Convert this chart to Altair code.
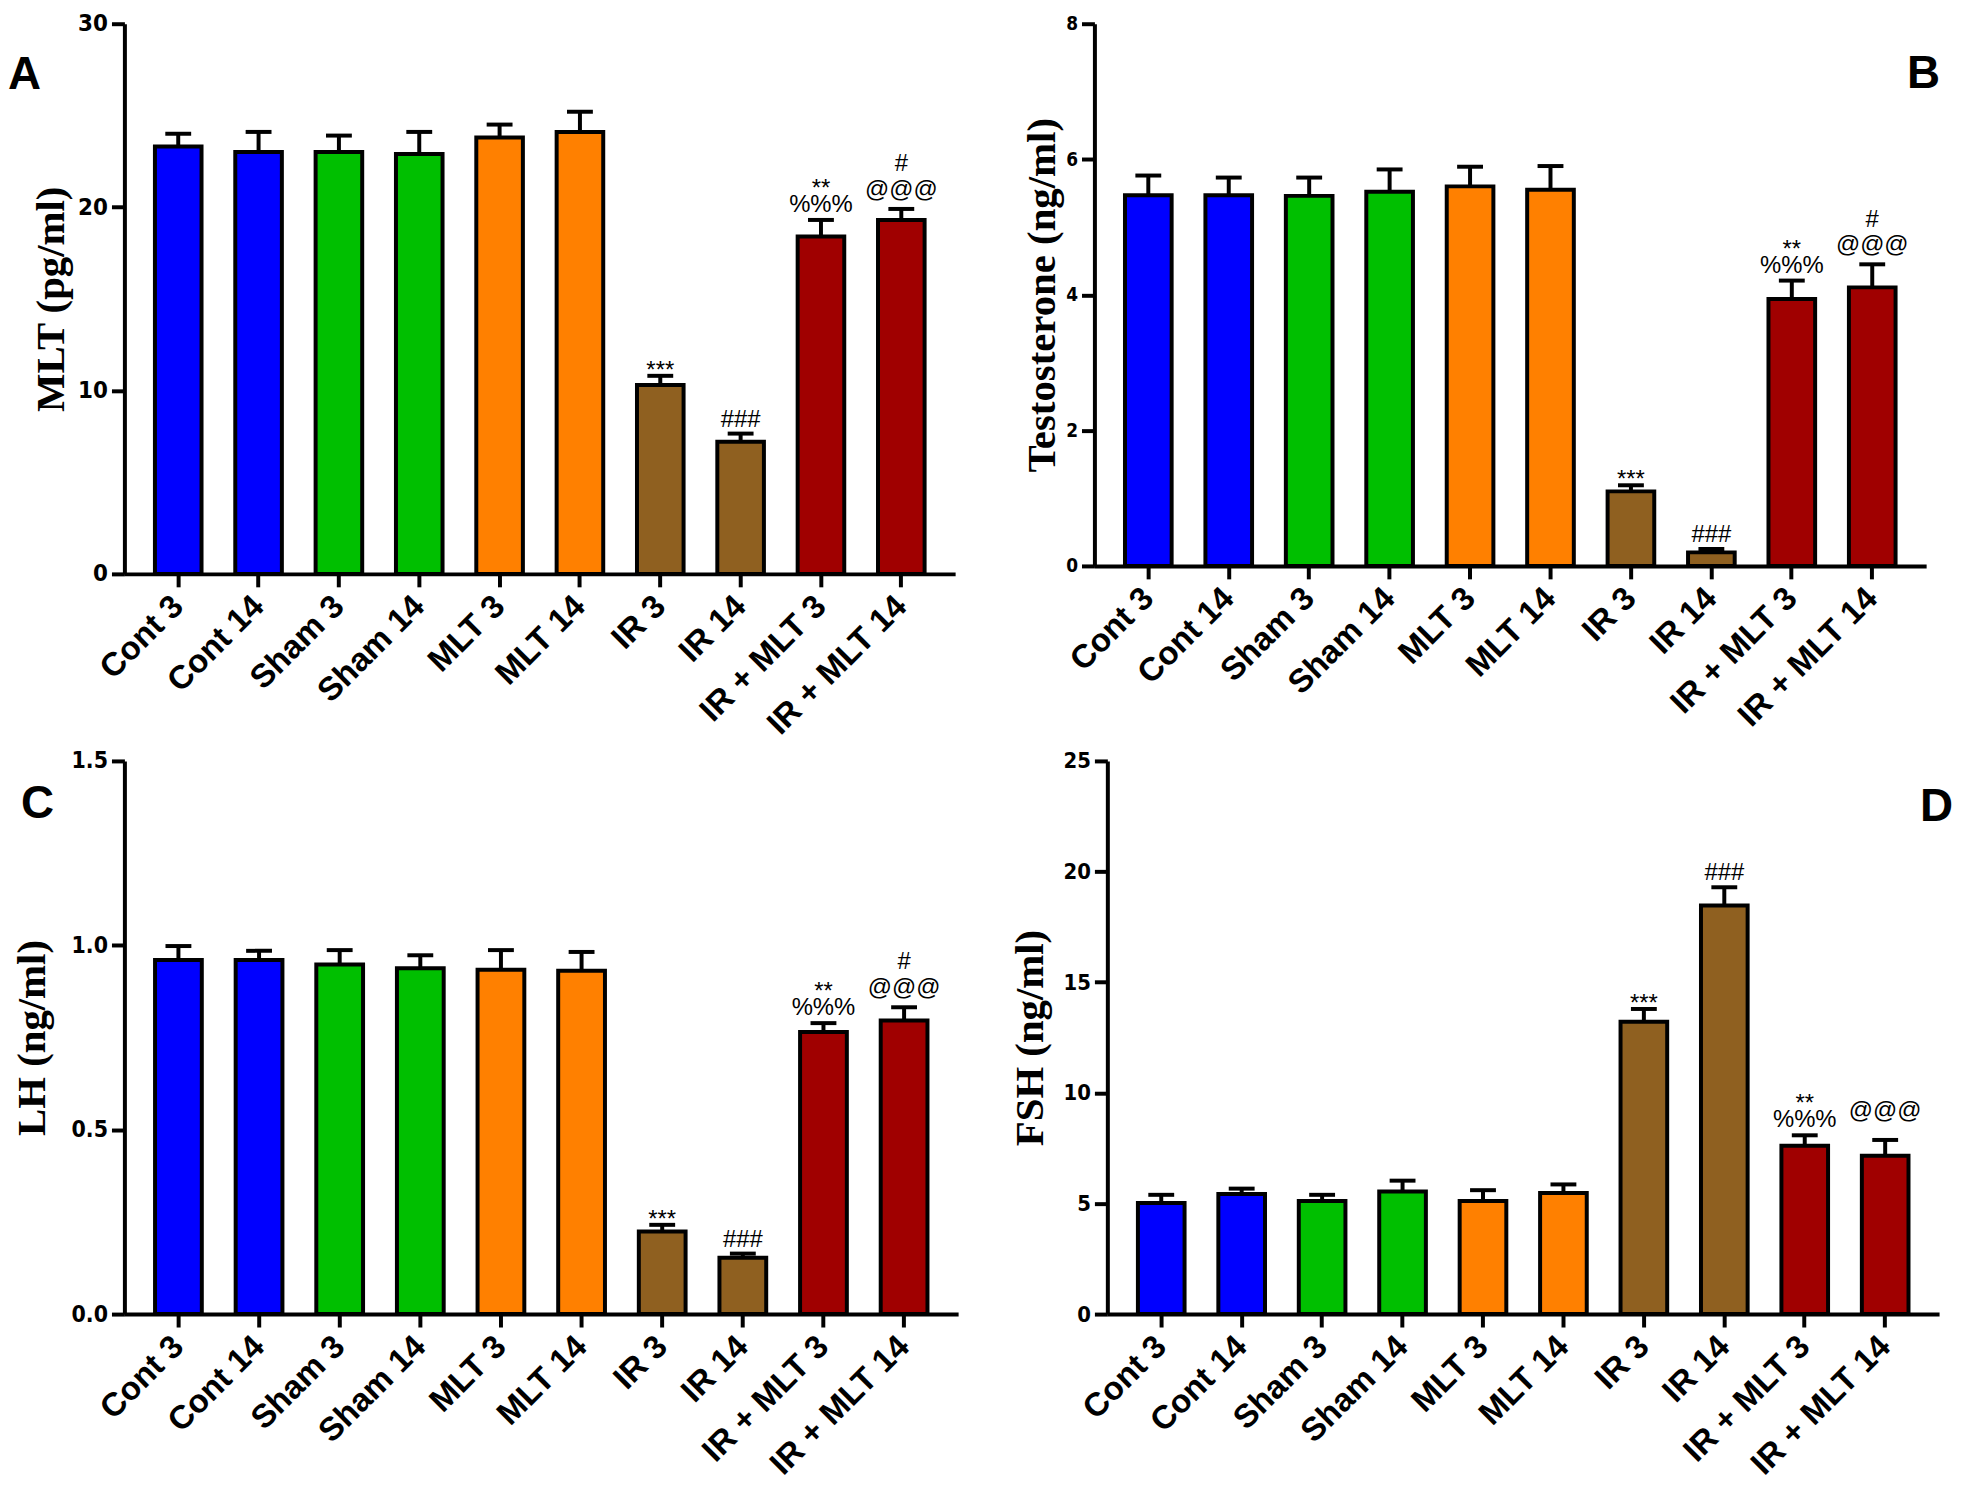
import altair as alt
import pandas as pd

categories = ["Cont 3", "Cont 14", "Sham 3", "Sham 14", "MLT 3", "MLT 14",
              "IR 3", "IR 14", "IR + MLT 3", "IR + MLT 14"]
groups = ["Cont", "Cont", "Sham", "Sham", "MLT", "MLT", "IR", "IR", "IR + MLT", "IR + MLT"]
group_names = ["Cont", "Sham", "MLT", "IR", "IR + MLT"]
group_colors = ["#0000FF", "#00BF00", "#FF8000", "#8F6020", "#A00000"]

mlt_mean = [23.3, 23.0, 23.0, 22.9, 23.8, 24.1, 10.3, 7.2, 18.4, 19.3]
mlt_sem = [0.7, 1.1, 0.9, 1.2, 0.7, 1.1, 0.5, 0.45, 0.9, 0.6]

testo_mean = [5.47, 5.47, 5.46, 5.52, 5.60, 5.55, 1.10, 0.20, 3.94, 4.11]
testo_sem = [0.29, 0.26, 0.27, 0.33, 0.29, 0.35, 0.09, 0.05, 0.27, 0.34]

lh_mean = [0.960, 0.960, 0.948, 0.938, 0.934, 0.931, 0.224, 0.153, 0.765, 0.796]
lh_sem = [0.038, 0.025, 0.039, 0.035, 0.053, 0.051, 0.018, 0.011, 0.024, 0.036]

fsh_mean = [5.02, 5.43, 5.11, 5.54, 5.11, 5.47, 13.21, 18.47, 7.61, 7.16]
fsh_sem = [0.37, 0.24, 0.28, 0.49, 0.49, 0.39, 0.58, 0.82, 0.47, 0.71]

ann_cats = ["IR 3", "IR 14", "IR + MLT 3", "IR + MLT 3", "IR + MLT 14", "IR + MLT 14"]
ann_abc = ["***", "###", "%%%", "**", "@@@", "#"]
ann_d = ["***", "###", "%%%", "**", "@@@", ""]

TICK_FONT = "Liberation Sans Narrow, DejaVu Sans Condensed, Liberation Sans"


def panel(means, sems, ymax, major, fmt, title, tick_fs, title_pad, ann_texts, dy_map,
          letter, lx, ly, lalign, width, height):
    df = pd.DataFrame({"cat": categories, "grp": groups, "mean": means, "sem": sems})
    df["upper"] = df["mean"] + df["sem"]
    look = dict(zip(categories, df["upper"]))
    adf = pd.DataFrame({"cat": ann_cats, "text": ann_texts})
    adf = adf[adf["text"] != ""].copy()
    adf["upper"] = [look[c] for c in adf["cat"]]

    majors = [round(i * major, 6) for i in range(int(round(ymax / major)) + 1)]

    xscale = alt.Scale(domain=categories, paddingInner=0.42, paddingOuter=0.38)
    xaxis = alt.Axis(title=None, labelAngle=-45, labelAlign="right", labelBaseline="middle",
                     labelFontSize=33, labelFont="Liberation Sans", labelFontWeight="bold",
                     labelColor="black", labelPadding=14, labelOverlap=False, labelLimit=500,
                     tickSize=13, tickWidth=4, tickColor="black",
                     domainWidth=4, domainColor="black")
    yscale = alt.Scale(domain=[0, ymax], nice=False, zero=True)
    yaxis = alt.Axis(title=title, values=majors, format=fmt, labelOverlap=False,
                     titleFont="Liberation Serif", titleFontSize=41, titleFontWeight="bold",
                     titleColor="black", titlePadding=title_pad,
                     labelFont=TICK_FONT, labelFontSize=tick_fs, labelFontWeight="bold",
                     labelColor="black", labelPadding=4,
                     tickSize=13, tickWidth=4, tickColor="black",
                     domainWidth=4, domainColor="black", grid=False)

    def X():
        return alt.X("cat:N", sort=categories, scale=xscale, axis=xaxis)

    def Y(f):
        return alt.Y(f, scale=yscale, axis=yaxis)

    base = alt.Chart(df)
    bars = base.mark_bar(stroke="black", strokeWidth=4).encode(
        x=X(), y=Y("mean:Q"),
        color=alt.Color("grp:N", scale=alt.Scale(domain=group_names, range=group_colors), legend=None))
    err = base.mark_rule(strokeWidth=4, color="black").encode(x=X(), y=Y("mean:Q"), y2="upper:Q")
    cap = base.mark_tick(size=26, thickness=4, color="black", opacity=1).encode(x=X(), y=Y("upper:Q"))

    layers = [bars, err, cap]
    for sym in adf["text"].unique():
        layers.append(
            alt.Chart(adf).transform_filter(alt.datum.text == sym).mark_text(
                dy=dy_map[sym], baseline="alphabetic", align="center",
                fontSize=24, font="Liberation Sans", color="black").encode(
                x=X(), y=Y("upper:Q"), text="text:N"))
    lt = alt.Chart(pd.DataFrame({"t": [letter]})).mark_text(
        align=lalign, baseline="alphabetic", fontSize=46, fontWeight="bold",
        font="Liberation Sans", color="black").encode(
        x=alt.value(lx), y=alt.value(ly), text="t:N")
    layers.append(lt)
    return alt.layer(*layers).properties(width=width, height=height)


dy_abc = {"***": 2, "###": -7, "%%%": -8, "**": -24, "@@@": -12, "#": -38}
dy_d = {"***": 2, "###": -7, "%%%": -8, "**": -24, "@@@": -22}

pA = panel(mlt_mean, mlt_sem, 30, 10, "d", "MLT (pg/ml)", 24, 5, ann_abc, dy_abc,
           "A", -117, 66, "left", 835, 553)
pB = panel(testo_mean, testo_sem, 8, 2, "d", "Testosterone (ng/ml)", 19, 2, ann_abc, dy_abc,
           "B", 850, 65, "right", 836, 545)
pC = panel(lh_mean, lh_sem, 1.5, 0.5, ".1f", "LH (ng/ml)", 23, 18, ann_abc, dy_abc,
           "C", -104, 57, "left", 838, 556)
pD = panel(fsh_mean, fsh_sem, 25, 5, "d", "FSH (ng/ml)", 22, 12, ann_d, dy_d,
           "D", 850, 60, "right", 836, 556)

row1 = alt.hconcat(pA, pB, spacing=140, bounds="flush")
row2 = alt.hconcat(pC, pD, spacing=150, bounds="flush")
chart = alt.vconcat(row1, row2, spacing=9, bounds="full").properties(
    padding={"left": 0, "top": 0, "right": 0, "bottom": 0}
).configure(background="white").configure_view(stroke=None)

chart.save("out.html", embed_options={"renderer": "svg", "actions": False})
